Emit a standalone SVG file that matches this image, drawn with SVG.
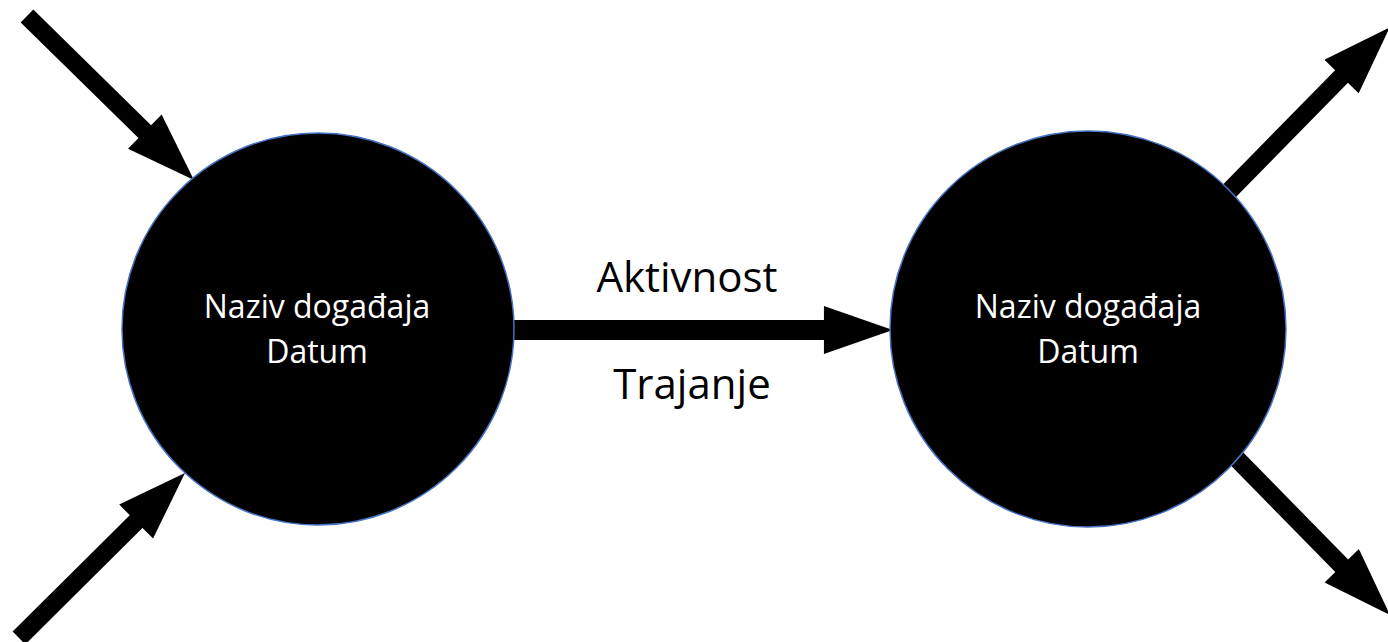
<svg xmlns="http://www.w3.org/2000/svg" width="1388" height="642" viewBox="0 0 1388 642">
<style>
.conn{stroke:#000;fill:none;stroke-linecap:butt}
.diag{stroke-width:18}
.horiz{stroke-width:20}
.node{fill:#000;stroke:#4472C4;stroke-width:1.5}
.ntext{font-family:"Open Sans","Liberation Sans",sans-serif;font-size:32px;fill:#fff;text-anchor:middle}
.label{font-family:"Open Sans","Liberation Sans",sans-serif;font-size:42px;fill:#000;text-anchor:middle}
</style>
<defs>
<marker id="head" markerUnits="userSpaceOnUse" markerWidth="70" markerHeight="48" viewBox="0 0 66 46" refX="2" refY="23" orient="auto">
<path d="M0,0 L66,23 L0,46 Z" fill="#000"/>
</marker>
</defs>
<rect width="1388" height="642" fill="#fff"/>
<g id="connectors">
<line class="conn diag" x1="27" y1="16" x2="146.3" y2="133.2" marker-end="url(#head)"/>
<line class="conn diag" x1="19" y1="638" x2="137.6" y2="520.1" marker-end="url(#head)"/>
<line class="conn diag" x1="1190" y1="231" x2="1343" y2="75" marker-end="url(#head)"/>
<line class="conn diag" x1="1190" y1="411" x2="1343.2" y2="567.3" marker-end="url(#head)"/>
<line class="conn horiz" x1="500" y1="330" x2="826" y2="330" marker-end="url(#head)"/>
</g>
<g id="event1">
<circle class="node" cx="318" cy="329" r="196"/>
<text class="ntext" x="317" y="318">Naziv događaja</text>
<text class="ntext" x="317" y="363">Datum</text>
</g>
<g id="event2">
<circle class="node" cx="1088" cy="329" r="198"/>
<text class="ntext" x="1088" y="318">Naziv događaja</text>
<text class="ntext" x="1088" y="363">Datum</text>
</g>
<g id="labels">
<text class="label" x="687" y="292">Aktivnost</text>
<text class="label" x="692" y="399">Trajanje</text>
</g>
</svg>
